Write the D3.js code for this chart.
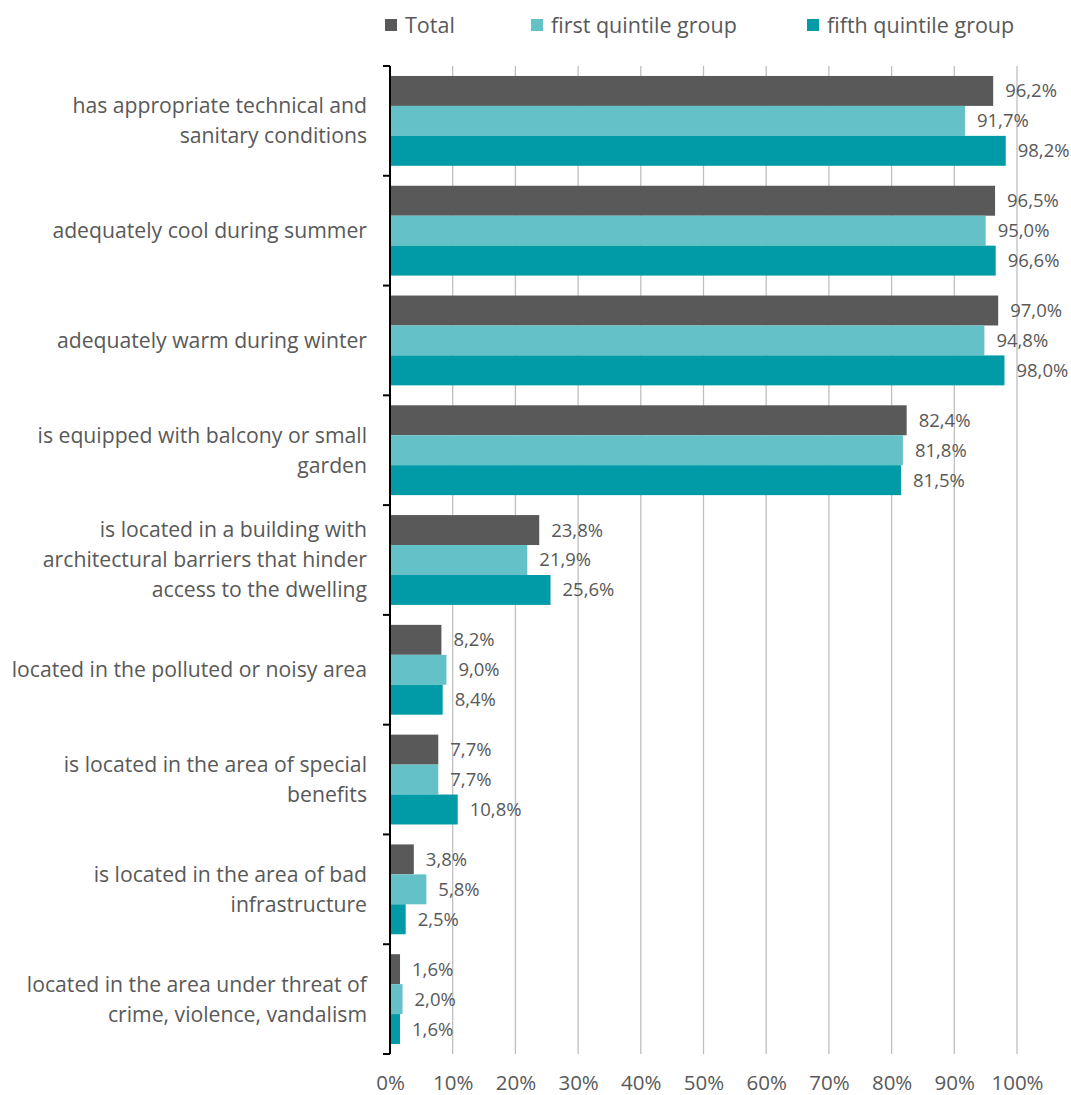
<!DOCTYPE html>
<html><head><meta charset="utf-8">
<script src="https://cdn.jsdelivr.net/npm/d3@7"></script>
<style>body{margin:0;background:#fff}</style>
</head><body>
<svg id="c" width="1071" height="1095"></svg>
<script>
const categories = [
  ["has appropriate technical and","sanitary conditions"],
  ["adequately cool during summer"],
  ["adequately warm during winter"],
  ["is equipped with balcony or small","garden"],
  ["is located in a building with","architectural barriers that hinder","access to the dwelling"],
  ["located in the polluted or noisy area"],
  ["is located in the area of special","benefits"],
  ["is located in the area of bad","infrastructure"],
  ["located in the area under threat of","crime, violence, vandalism"]
];
const seriesNames = ["Total","first quintile group","fifth quintile group"];
const total = [96.2,96.5,97.0,82.4,23.8,8.2,7.7,3.8,1.6];
const firstQ = [91.7,95.0,94.8,81.8,21.9,9.0,7.7,5.8,2.0];
const fifthQ = [98.2,96.6,98.0,81.5,25.6,8.4,10.8,2.5,1.6];
const colors = ["#595959","#65C1C8","#009BA6"];
const xTicks = [0,10,20,30,40,50,60,70,80,90,100];

const series = [total, firstQ, fifthQ];
const svg = d3.select("#c");
const font = "'Open Sans', sans-serif";
const textColor = "#595959";
const pLeft = 390, pRight = 1017, pTop = 66, pBottom = 1054;

const x = d3.scaleLinear().domain([0,100]).range([pLeft,pRight]);
const y = d3.scaleBand().domain(d3.range(categories.length)).range([pTop,pBottom]).paddingInner(0).paddingOuter(0);
const inner = d3.scaleBand().domain(d3.range(3)).range([0,y.bandwidth()]).paddingInner(0).paddingOuter(0.333);

// gridlines
svg.append("g").selectAll("line").data(xTicks.filter(d=>d>0)).join("line")
  .attr("x1",d=>x(d)).attr("x2",d=>x(d)).attr("y1",pTop).attr("y2",pBottom)
  .attr("stroke","#BFBFBF").attr("stroke-width",1.3);

// bars
const groups = svg.append("g").selectAll("g").data(categories).join("g")
  .attr("transform",(d,i)=>`translate(0,${y(i)})`);
groups.each(function(c,i){
  const g = d3.select(this);
  series.forEach((s,k)=>{
    g.append("rect").attr("x",x(0)).attr("y",inner(k))
      .attr("width",x(s[i])-x(0)).attr("height",inner.bandwidth())
      .attr("fill",colors[k]);
    g.append("text").attr("x",x(s[i])+12).attr("y",inner(k)+inner.bandwidth()/2)
      .attr("dy","0.35em").attr("font-family",font).attr("font-size",18.5)
      .attr("fill",textColor).text(s[i].toFixed(1).replace(".",",")+"%");
  });
  const lh = 30;
  const n = c.length;
  c.forEach((line,j)=>{
    g.append("text").attr("x",367).attr("y",y.bandwidth()/2 + (j-(n-1)/2)*lh)
      .attr("dy","0.35em").attr("text-anchor","end")
      .attr("font-family",font).attr("font-size",21.2).attr("fill",textColor).text(line);
  });
});

// y axis
svg.append("line").attr("x1",pLeft).attr("x2",pLeft).attr("y1",pTop).attr("y2",pBottom)
  .attr("stroke","#000").attr("stroke-width",2);
const bounds = d3.range(categories.length+1).map(i=> i<categories.length ? y(i) : pBottom);
svg.append("g").selectAll("line").data(bounds).join("line")
  .attr("x1",pLeft-7).attr("x2",pLeft).attr("y1",d=>d).attr("y2",d=>d)
  .attr("stroke","#000").attr("stroke-width",2);

// x axis labels
const xAxis = d3.axisBottom(x).tickValues(xTicks).tickSize(0).tickFormat(d=>d+"%");
const xg = svg.append("g").attr("transform",`translate(0,${pBottom})`).call(xAxis);
xg.select(".domain").remove();
xg.selectAll("text").attr("font-family",font).attr("font-size",20.5).attr("fill",textColor)
  .attr("y",29).attr("dy","0.35em");

// legend
const legX = [385,531,807];
const lg = svg.append("g").selectAll("g").data(seriesNames).join("g")
  .attr("transform",(d,i)=>`translate(${legX[i]},25)`);
lg.append("rect").attr("x",0).attr("y",-6).attr("width",12).attr("height",12).attr("fill",(d,i)=>colors[i]);
lg.append("text").attr("x",20).attr("dy","0.35em").attr("font-family",font).attr("font-size",21.5)
  .attr("fill",textColor).text(d=>d);
</script>
</body></html>
